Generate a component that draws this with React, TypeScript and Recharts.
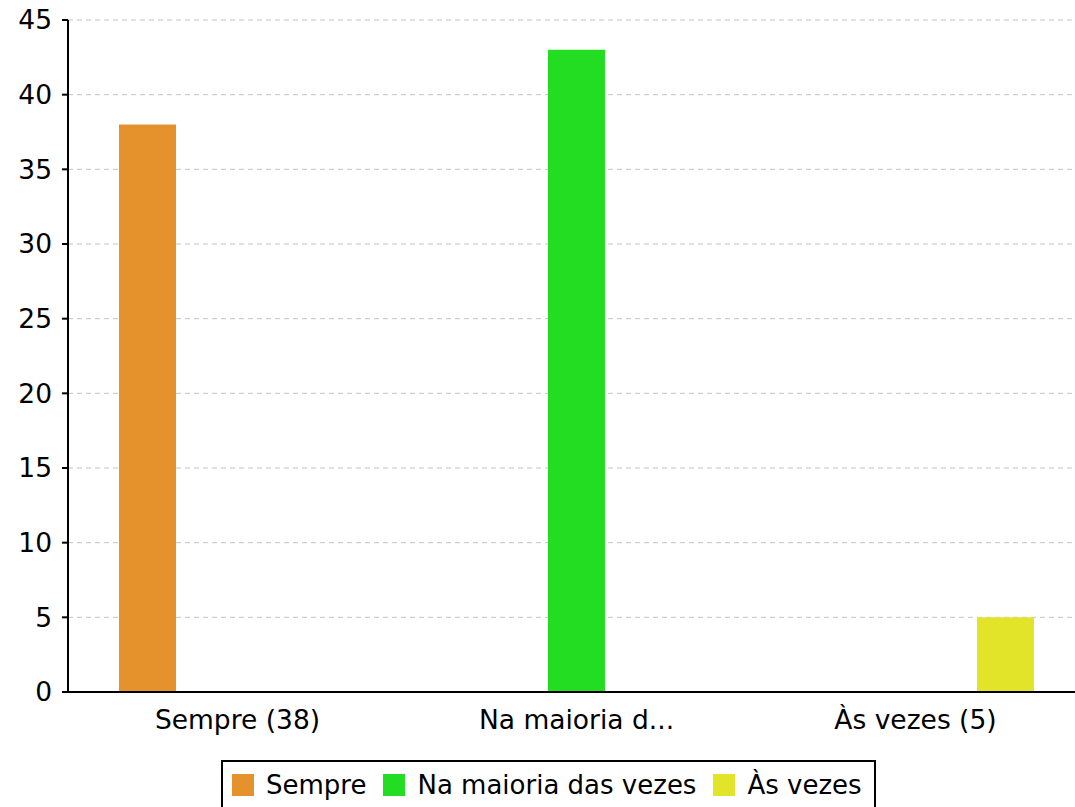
import React from 'react'
import { BarChart, Bar, XAxis, YAxis, CartesianGrid, Legend } from 'recharts'

const categories = ['Sempre (38)', 'Na maioria d...', 'Às vezes (5)']
const seriesNames = ['Sempre', 'Na maioria das vezes', 'Às vezes']
const sempre = [38, 0, 0]
const maioria = [0, 43, 0]
const asVezes = [0, 0, 5]
const yTicks = [0, 5, 10, 15, 20, 25, 30, 35, 40, 45]

const colors = ['#e5922c', '#22dd22', '#e2e42a']
const font = 'DejaVu Sans'

const data = categories.map((name, i) => ({
  name,
  sempre: sempre[i],
  maioria: maioria[i],
  asVezes: asVezes[i],
}))

function BoxLegend() {
  return (
    <div
      style={{
        display: 'inline-flex',
        alignItems: 'center',
        border: '2px solid #000',
        padding: '12px 12px 14px 9px',
        background: '#fff',
        fontFamily: font,
        fontSize: 26,
        lineHeight: '22px',
        whiteSpace: 'nowrap',
      }}
    >
      {seriesNames.map((s, i) => (
        <span key={s} style={{ display: 'inline-flex', alignItems: 'center', marginLeft: i ? 17 : 0 }}>
          <span style={{ width: 22, height: 22, background: colors[i], display: 'inline-block', marginRight: 12 }} />
          {s}
        </span>
      ))}
    </div>
  )
}

export default function App() {
  return (
    <div style={{ position: 'absolute', left: 0, top: 0, width: 1075, height: 807, overflow: 'hidden', background: '#fff' }}>
      <BarChart
        width={1085}
        height={807}
        data={data}
        margin={{ top: 20, right: 0, bottom: 0, left: 0 }}
        barSize={57}
        barGap={33}
      >
        <CartesianGrid vertical={false} stroke="#c4c4c4" strokeDasharray="5 4" />
        <XAxis
          dataKey="name"
          height={115}
          tickSize={0}
          tickMargin={18}
          tick={{ fill: '#000', fontSize: 26.5, fontFamily: font }}
          axisLine={{ stroke: '#000', strokeWidth: 2 }}
          tickLine={false}
        />
        <YAxis
          width={68}
          domain={[0, 45]}
          ticks={yTicks}
          interval={0}
          tickSize={6}
          tickMargin={10}
          tick={{ fill: '#000', fontSize: 26.5, fontFamily: font }}
          axisLine={{ stroke: '#000', strokeWidth: 2 }}
          tickLine={{ stroke: '#000', strokeWidth: 2 }}
        />
        <Legend
          verticalAlign="middle"
          content={() => <BoxLegend />}
          wrapperStyle={{ left: 221, top: 760, width: 'auto' }}
        />
        <Bar dataKey="sempre" name={seriesNames[0]} fill={colors[0]} isAnimationActive={false} />
        <Bar dataKey="maioria" name={seriesNames[1]} fill={colors[1]} isAnimationActive={false} />
        <Bar dataKey="asVezes" name={seriesNames[2]} fill={colors[2]} isAnimationActive={false} />
      </BarChart>
    </div>
  )
}
